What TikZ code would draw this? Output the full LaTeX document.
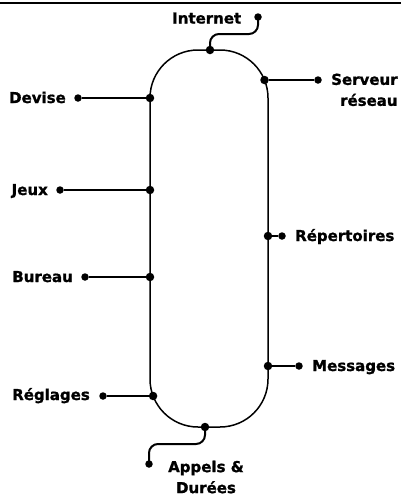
\documentclass[tikz,border=0pt]{standalone}
\usepackage{fontspec}
\setmainfont{DejaVu Sans}[BoldFeatures={FakeBold=1.2}]
\begin{document}
\begin{tikzpicture}[x=1pt,y=-1pt,
  ring/.style={draw,line width=1.5pt,rounded corners=48pt,minimum width=118pt,minimum height=377pt,inner sep=0pt},
  ondot/.style={circle,fill,inner sep=0pt,minimum size=8.5pt},
  enddot/.style={circle,fill,inner sep=0pt,minimum size=7.5pt},
  conn/.style={line width=2pt},
  curvedconn/.style={line width=2pt,rounded corners=9pt},
  lbl/.style={inner sep=0pt,font=\fontsize{15}{21}\selectfont\bfseries}]
\useasboundingbox (0,0) rectangle (403,496);
\coordinate (rl) at (0,2.5);
\coordinate (rr) at (401,2.5);
\draw[line width=2pt] (rl) -- (rr);
\node[ring] (ring) at (209,238.5) {};
% dots on ring
\node[ondot] (dtop) at (210,50) {};
\node[ondot] (dserv) at (264.5,80) {};
\node[ondot] (ddev) at (150,98) {};
\node[ondot] (djeu) at (150,190) {};
\node[ondot] (dbur) at (150,277) {};
\node[ondot] (drep) at (268,236) {};
\node[ondot] (dmes) at (268,366) {};
\node[ondot] (dreg) at (153.1,396) {};
\node[ondot] (dbot) at (205,427) {};
% end dots
\node[enddot] (einet) at (258,17) {};
\node[enddot] (eserv) at (318,80) {};
\node[enddot] (edev) at (78,98) {};
\node[enddot] (ejeu) at (60,190) {};
\node[enddot] (ebur) at (85,277) {};
\node[enddot] (erep) at (282,236) {};
\node[enddot] (emes) at (299,366) {};
\node[enddot] (ereg) at (103,396) {};
\node[enddot] (eapp) at (149,464) {};
% connectors
\coordinate (ib1) at (210,34);
\coordinate (ib2) at (258,34);
\draw[curvedconn] (dtop.center) -- (ib1) -- (ib2) -- (einet.center);
\coordinate (ab1) at (205,444);
\coordinate (ab2) at (149,444);
\draw[curvedconn] (dbot.center) -- (ab1) -- (ab2) -- (eapp.center);
\draw[conn] (dserv) -- (eserv);
\draw[conn] (ddev) -- (edev);
\draw[conn] (djeu) -- (ejeu);
\draw[conn] (dbur) -- (ebur);
\draw[conn] (drep) -- (erep);
\draw[conn] (dmes) -- (emes);
\draw[conn] (dreg) -- (ereg);
% labels
\node[lbl,anchor=base west] (tinet) at (172,23.5) {Internet};
\node[lbl,anchor=north west,align=right] (tserv) at (331,73.5) {Serveur\\réseau};
\node[lbl,anchor=base east] (tdev) at (66,103) {Devise};
\node[lbl,anchor=base east] (tjeu) at (48,195) {Jeux};
\node[lbl,anchor=base east] (tbur) at (73,282) {Bureau};
\node[lbl,anchor=base west] (trep) at (295,241) {Répertoires};
\node[lbl,anchor=base west] (tmes) at (312,371) {Messages};
\node[lbl,anchor=base east] (treg) at (90,400) {Réglages};
\node[lbl,anchor=north,align=center] (tapp) at (206,460.5) {Appels \&\\Durées};
\end{tikzpicture}
\end{document}
